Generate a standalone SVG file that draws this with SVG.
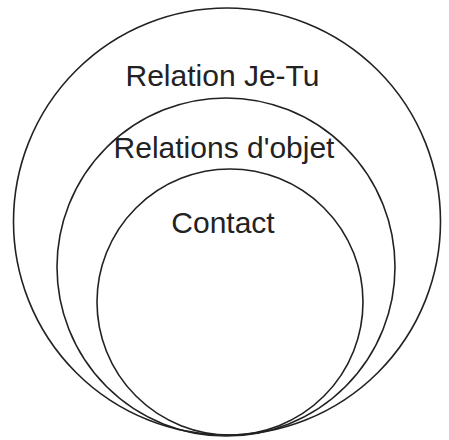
<svg xmlns="http://www.w3.org/2000/svg" width="449" height="440" viewBox="0 0 449 440">
  <style>
    .ring { fill: none; stroke: #222; stroke-width: 1.6; }
    .label { font-family: "Liberation Sans", Arial, Helvetica, sans-serif; font-size: 30px; fill: #222; text-anchor: middle; }
  </style>
  <rect width="449" height="440" fill="#fff"/>
  <!-- three nested circles, all touching at the bottom -->
  <g id="relation-je-tu">
    <circle class="ring" cx="227" cy="221.5" r="213.5"/>
    <text class="label" x="222.5" y="86">Relation Je-Tu</text>
  </g>
  <g id="relations-objet">
    <circle class="ring" cx="226" cy="267" r="169"/>
    <text class="label" x="224" y="158">Relations d'objet</text>
  </g>
  <g id="contact">
    <circle class="ring" cx="230" cy="302" r="133"/>
    <text class="label" x="223" y="233">Contact</text>
  </g>
</svg>
